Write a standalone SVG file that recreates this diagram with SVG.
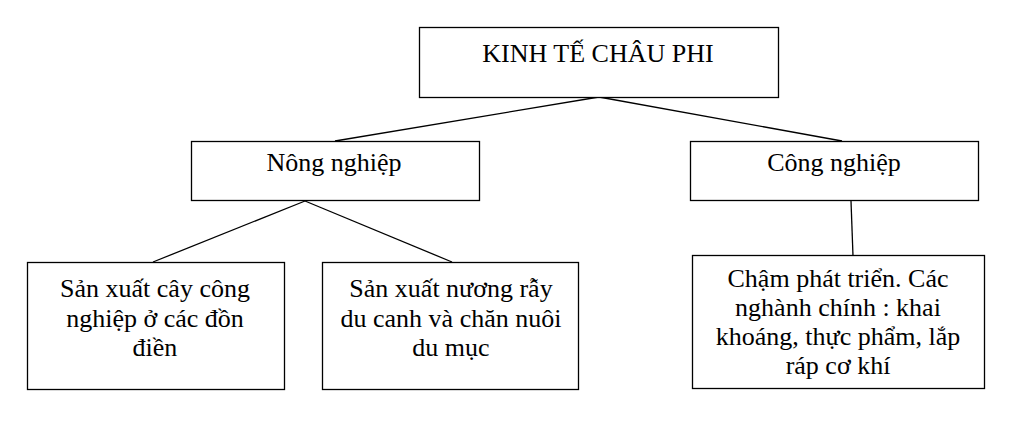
<svg xmlns="http://www.w3.org/2000/svg" width="1024" height="431" viewBox="0 0 1024 431">
<style>
.box{fill:#fff;stroke:#000;stroke-width:1.3}
.t{font-family:"Liberation Serif","Times New Roman",serif;font-size:26px;fill:#000;text-anchor:middle}
.c{stroke:#000;stroke-width:1.3;fill:none}
</style>
<rect width="1024" height="431" fill="#fff"/>
<g id="connectors">
<line class="c" x1="599" y1="97" x2="335" y2="141"/>
<line class="c" x1="599" y1="97" x2="842" y2="141"/>
<line class="c" x1="305" y1="201" x2="153" y2="262"/>
<line class="c" x1="305" y1="201" x2="452" y2="262"/>
<line class="c" x1="851" y1="201" x2="853" y2="256"/>
</g>
<g id="kinh-te">
<rect class="box" x="419.5" y="27.5" width="359" height="70"/>
<text class="t" x="598" y="62">KINH TẾ CHÂU PHI</text>
</g>
<g id="nong-nghiep">
<rect class="box" x="191.5" y="141.5" width="288" height="59"/>
<text class="t" x="334" y="171">Nông nghiệp</text>
</g>
<g id="cong-nghiep">
<rect class="box" x="690.5" y="141.5" width="288" height="59"/>
<text class="t" x="834" y="171">Công nghiệp</text>
</g>
<g id="cay-cong-nghiep">
<rect class="box" x="27.5" y="262.5" width="257" height="127"/>
<text class="t" x="155" y="297">Sản xuất cây công</text>
<text class="t" x="155" y="327">nghiệp ở các đồn</text>
<text class="t" x="155" y="356">điền</text>
</g>
<g id="nuong-ray">
<rect class="box" x="322.5" y="262.5" width="256" height="127"/>
<text class="t" x="451" y="297">Sản xuất nương rẫy</text>
<text class="t" x="451" y="327">du canh và chăn nuôi</text>
<text class="t" x="451" y="356">du mục</text>
</g>
<g id="cham-phat-trien">
<rect class="box" x="692.5" y="255.5" width="292" height="133"/>
<text class="t" x="838" y="287">Chậm phát triển. Các</text>
<text class="t" x="838" y="316">nghành chính : khai</text>
<text class="t" x="838" y="345">khoáng, thực phẩm, lắp</text>
<text class="t" x="838" y="374">ráp cơ khí</text>
</g>
</svg>
